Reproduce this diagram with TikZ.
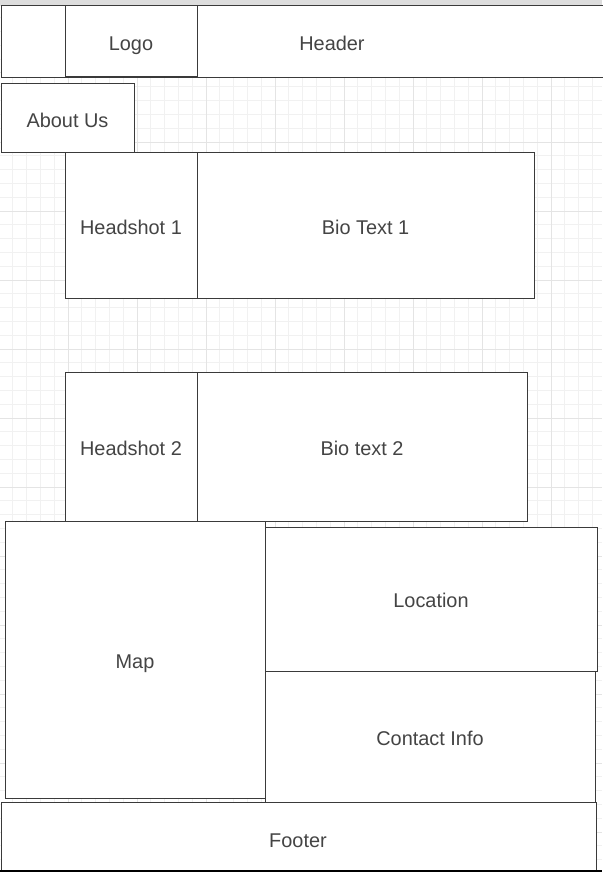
\documentclass[tikz,border=0pt]{standalone}
\usepackage{fontspec}
\setmainfont{Liberation Sans}
\definecolor{linec}{HTML}{3A3A3A}
\definecolor{textc}{HTML}{444444}
\definecolor{gridminor}{HTML}{F1F1F1}
\definecolor{gridmajor}{HTML}{E4E4E4}
\definecolor{bandc}{HTML}{DDDDDD}
\tikzset{
  box/.style={draw=linec, line width=1pt, fill=white},
  lbl/.style={text=textc, font=\fontsize{19.9}{22}\selectfont, anchor=base, inner sep=0pt},
}
\begin{document}
\begin{tikzpicture}[x=1pt,y=-1pt]
\useasboundingbox (0,0) rectangle (602,872);
\fill[white] (0,0) rectangle (602,872);
% grid
\foreach \i in {0,...,44} {
  \pgfmathsetmacro{\xx}{-1+13.8*\i}
  \draw[gridminor, line width=1pt] (\xx,6) -- (\xx,872);
}
\foreach \i in {0,...,63} {
  \pgfmathsetmacro{\yy}{4+13.8*\i}
  \draw[gridminor, line width=1pt] (0,\yy) -- (602,\yy);
}
\foreach \i in {0,...,8} {
  \pgfmathsetmacro{\xx}{-1+69*\i}
  \draw[gridmajor, line width=1pt] (\xx,6) -- (\xx,872);
}
\foreach \i in {0,...,12} {
  \pgfmathsetmacro{\yy}{4+69*\i}
  \draw[gridmajor, line width=1pt] (0,\yy) -- (602,\yy);
}
% top band
\fill[bandc] (0,0) rectangle (602,6);
% boxes
\draw[box] (1,6) rectangle (604,78);
\node[lbl] (header) at (332,50.5) {Header};
\draw[box] (65,6) rectangle (197,77);
\node[lbl] (logo) at (131,50.7) {Logo};
\draw[box] (1,84) rectangle (134,152);
\node[lbl] (about) at (67.5,127.3) {About Us};
\draw[box] (65,152) rectangle (197,298);
\node[lbl] (hs1) at (131,234.5) {Headshot 1};
\draw[box] (197,152) rectangle (534,298);
\node[lbl] (bio1) at (365.5,234.5) {Bio Text 1};
\draw[box] (65,372) rectangle (197,521);
\node[lbl] (hs2) at (131,455.5) {Headshot 2};
\draw[box] (197,372) rectangle (527,521);
\node[lbl] (bio2) at (362,455.5) {Bio text 2};
\draw[box] (265,527) rectangle (597,671);
\node[lbl] (loc) at (431,607.5) {Location};
\draw[box] (265,671) rectangle (595,802);
\node[lbl] (contact) at (430,745.5) {Contact Info};
\draw[box] (5,521) rectangle (265,798);
\node[lbl] (map) at (135,668.5) {Map};
\draw[box] (1,802) rectangle (596,870);
\node[lbl] (footer) at (298,847) {Footer};
% bottom edge
\fill[black] (0,869.5) rectangle (602,872);
\end{tikzpicture}
\end{document}
